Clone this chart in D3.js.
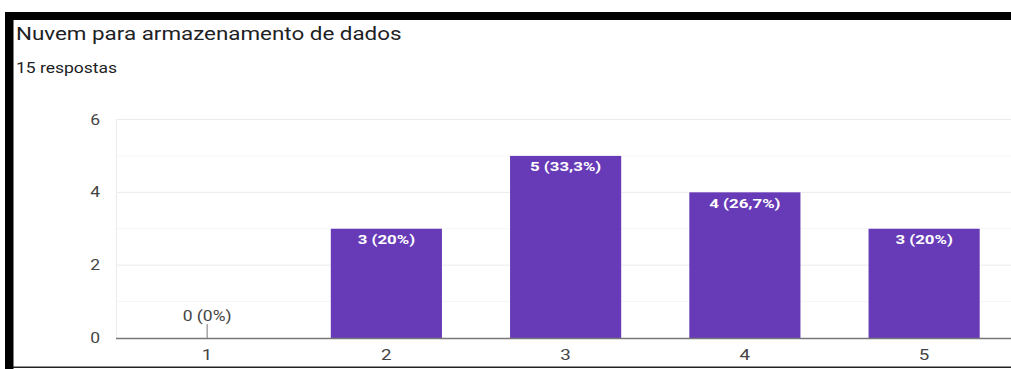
<!DOCTYPE html>
<html><head><meta charset="utf-8">
<script src="https://cdn.jsdelivr.net/npm/d3@7"></script>
<style>body{margin:0;background:#fff}svg{display:block}</style>
</head><body><svg id="c" width="1011" height="369"></svg>
<script>
const title = "Nuvem para armazenamento de dados";
const subtitle = "15 respostas";
const categories = ["1","2","3","4","5"];
const values = [0,3,5,4,3];
const labels = ["0 (0%)","3 (20%)","5 (33,3%)","4 (26,7%)","3 (20%)"];
const yTicks = [0,2,4,6];
const yMinor = [1,3,5];

const svg = d3.select("#c");
const font = "Roboto, Arial, sans-serif";
const SX = 1.25;
function txt(x, y, s, opts){
  const g = svg.append("g").attr("transform",`translate(${x},${y}) scale(${opts.sx||SX},1)`);
  return g.append("text").attr("x",0).attr("y",0).attr("text-anchor",opts.anchor||"start")
    .attr("font-family",font).attr("font-size",opts.size||13).attr("font-weight",opts.weight||"normal")
    .attr("fill",opts.fill||"#444").text(s);
}
// frame
svg.append("rect").attr("x",5).attr("y",12).attr("width",1006).attr("height",8).attr("fill","#000");
svg.append("rect").attr("x",5).attr("y",12).attr("width",8.5).attr("height",357).attr("fill","#000");
svg.append("rect").attr("x",13).attr("y",366.5).attr("width",998).attr("height",1.5).attr("fill","#222");

txt(16, 40, title, {size:17.5, fill:"#202124", sx:1.28});
txt(16, 73, subtitle, {size:14, fill:"#202124"});

const y = d3.scaleLinear().domain([0,6]).range([338,119.5]);
const x = d3.scaleBand().domain(categories).range([117.5,1013.75]).paddingInner(0.38).paddingOuter(0.19);
const x0 = 116, x1 = 1011;

yMinor.forEach(v=>svg.append("line").attr("x1",x0).attr("x2",x1).attr("y1",y(v)).attr("y2",y(v)).attr("stroke","#f6f6f6"));
yTicks.filter(v=>v>0).forEach(v=>svg.append("line").attr("x1",x0).attr("x2",x1).attr("y1",y(v)).attr("y2",y(v)).attr("stroke","#ebebeb"));
svg.append("line").attr("x1",x0+0.5).attr("x2",x0+0.5).attr("y1",y(6)).attr("y2",y(0)).attr("stroke","#ebebeb");

yTicks.forEach(d=>txt(100, y(d)+5, d, {anchor:"end", size:14}));

const data = categories.map((c,i)=>({c,v:values[i],l:labels[i]}));
svg.selectAll(".bar").data(data.filter(d=>d.v>0)).enter().append("rect")
  .attr("x",d=>x(d.c)).attr("y",d=>y(d.v)).attr("width",x.bandwidth()).attr("height",d=>y(0)-y(d.v))
  .attr("fill","#673ab7");

data.filter(d=>d.v>0).forEach(d=>
  txt(x(d.c)+x.bandwidth()/2, y(d.v)+15.5, d.l, {anchor:"middle", size:13.5, weight:"bold", fill:"#fff"}));

data.filter(d=>d.v===0).forEach(d=>{
  const cx = x(d.c)+x.bandwidth()/2;
  svg.append("line").attr("x1",cx).attr("x2",cx).attr("y1",y(0)-14).attr("y2",y(0)).attr("stroke","#777");
  txt(cx, y(0)-17, d.l, {anchor:"middle", size:14, fill:"#444"});
});

svg.append("line").attr("x1",x0).attr("x2",x1).attr("y1",y(0)+0.5).attr("y2",y(0)+0.5).attr("stroke","#777").attr("stroke-width",1.5);

categories.forEach(d=>txt(x(d)+x.bandwidth()/2, 360, d, {anchor:"middle", size:15}));
</script></body></html>
